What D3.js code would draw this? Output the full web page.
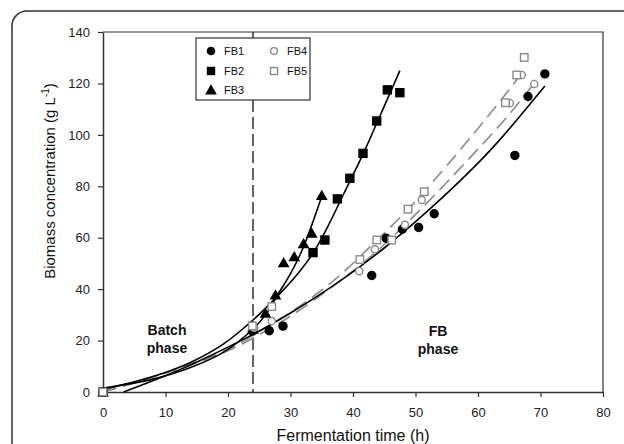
<!DOCTYPE html>
<html><head><meta charset="utf-8">
<script src="https://cdn.jsdelivr.net/npm/d3@7"></script>
<style>body{margin:0;background:#fff;} svg{display:block;font-family:"Liberation Sans",Arial,sans-serif;}</style>
</head><body>
<svg id="c" width="624" height="444"></svg>
<script>
// ---- data ----
const seriesNames = ["FB1","FB2","FB3","FB4","FB5"];
const fb1Points = [[0,0],[23.9,23.7],[26.6,23.8],[28.8,25.6],[43,45.3],[45.3,59.8],[47.9,63.3],[50.5,64.0],[53.0,69.3],[65.9,92.0],[68.0,114.9],[70.7,123.7]];
const fb2Points = [[0,0],[24,24.5],[33.6,54.2],[35.5,59.1],[37.5,75.1],[39.5,83.1],[41.6,92.8],[43.8,105.4],[45.5,117.5],[47.5,116.4]];
const fb3Points = [[0,0],[24,24.5],[26.0,30.6],[27.6,37.7],[28.9,50.2],[30.6,52.6],[32.1,57.6],[33.4,61.7],[35.0,76.4]];
const fb4Points = [[0,0],[24.2,25],[27.0,27.6],[41.0,47.0],[43.5,55.5],[48.3,65.0],[51.0,74.7],[65.1,112.3],[67.0,123.3],[69.0,119.8]];
const fb5Points = [[0,0],[23.9,25.7],[27.0,33.2],[41.1,51.5],[43.8,59.1],[46.2,59.1],[48.8,71.1],[51.4,77.9],[64.4,112.5],[66.2,123.3],[67.4,130.1]];
// fitted curves as drawn in the picture
const fb1Curve = [[3.3,0],[10,6.3],[13.9,10.4],[17,13.9],[24,22.4],[30,30.7],[38,43.3],[45,56],[52,70.5],[60,89],[64,99.5],[70.7,119]];
const fb2Curve = [[0,1],[8,6],[14,11.5],[19.3,18.7],[24,28],[28,37.5],[31,45.5],[33.6,54],[36,64.5],[38.5,77],[41.6,92.5],[43.8,104.5],[47.5,125]];
const fb3Curve = [[0,1.5],[8,5],[14,9.5],[19.3,15.5],[24,24.5],[26,30],[28,38],[30,46],[32,56],[35.2,77.5]];
const fb4Curve = [[0,0],[10,7.3],[20,16],[24,21],[30,29.5],[37,41.5],[43,53],[48.3,65],[51,71.5],[55,81.5],[60,94.5],[65,108],[69.4,121.4]];
const fb5Curve = [[0,0],[10,7.6],[20,16.5],[24,22],[30,31],[37,43.5],[43.8,59],[48.8,71],[51.4,78],[55,88],[60,102.5],[64,114.5],[67.3,125]];
const xTicks = [0,10,20,30,40,50,60,70,80];
const yTicks = [0,20,40,60,80,100,120,140];
const phaseBoundary = 24;

// ---- layout ----
const svg = d3.select("#c");
const L = 103, R = 603, T = 32, B = 392;
const x = d3.scaleLinear().domain([0,80]).range([L,R]);
const y = d3.scaleLinear().domain([0,140]).range([B,T]);
const axisCol = "#333", gray = "#8a8a8a";

// outer rounded frame
svg.append("rect").attr("x",12).attr("y",11).attr("width",640).attr("height",470)
  .attr("rx",15).attr("fill","none").attr("stroke","#333").attr("stroke-width",1.5);

// plot frame (top/right)
svg.append("path").attr("d",`M${L},${T}H${R}V${B}`).attr("fill","none").attr("stroke",axisCol).attr("stroke-width",1.2);

const xa = svg.append("g").attr("transform",`translate(0,${B})`)
  .call(d3.axisBottom(x).tickValues(xTicks).tickSize(5).tickPadding(11).tickSizeOuter(0));
const ya = svg.append("g").attr("transform",`translate(${L},0)`)
  .call(d3.axisLeft(y).tickValues(yTicks).tickSize(5).tickPadding(8).tickSizeOuter(0));
[xa,ya].forEach(g=>{
  g.select(".domain").attr("stroke",axisCol).attr("stroke-width",1.5);
  g.selectAll(".tick line").attr("stroke",axisCol).attr("stroke-width",1.2);
  g.selectAll(".tick text").attr("fill","#222").style("font-size","13px").style("font-family","'Liberation Sans',Arial,sans-serif");
});

// phase boundary
svg.append("line").attr("x1",x(phaseBoundary)).attr("x2",x(phaseBoundary)).attr("y1",T).attr("y2",B)
  .attr("stroke","#111").attr("stroke-width",1.3).attr("stroke-dasharray","12,5");

// curves
const line = d3.line().x(d=>x(d[0])).y(d=>y(d[1])).curve(d3.curveCatmullRom.alpha(0.5));
[[fb4Curve,gray,"14,7"],[fb5Curve,gray,"14,7"],[fb1Curve,"#000",null],[fb2Curve,"#000",null],[fb3Curve,"#000",null]]
.forEach(([c,col,dash])=>{
  const p = svg.append("path").attr("d",line(c)).attr("fill","none").attr("stroke",col).attr("stroke-width",1.6);
  if(dash) p.attr("stroke-dasharray",dash);
});

// markers
const tri = d3.symbol().type(d3.symbolTriangle).size(60);
function drawCircle(g,cx,cy,r,fill,stroke){g.append("circle").attr("cx",cx).attr("cy",cy).attr("r",r).attr("fill",fill).attr("stroke",stroke).attr("stroke-width",1.4);}
function drawSquare(g,cx,cy,s,fill,stroke){g.append("rect").attr("x",cx-s/2).attr("y",cy-s/2).attr("width",s).attr("height",s).attr("fill",fill).attr("stroke",stroke).attr("stroke-width",1.4);}
function drawTri(g,cx,cy){g.append("path").attr("d",tri()).attr("transform",`translate(${cx},${cy+1})`).attr("fill","#000");}
const mg = svg.append("g");
fb1Points.forEach(d=>drawCircle(mg,x(d[0]),y(d[1]),4,"#000","#000"));
fb2Points.forEach(d=>drawSquare(mg,x(d[0]),y(d[1]),8,"#000","#000"));
fb3Points.forEach(d=>drawTri(mg,x(d[0]),y(d[1])));
fb4Points.forEach(d=>drawCircle(mg,x(d[0]),y(d[1]),3.6,"#fff",gray));
fb5Points.forEach(d=>drawSquare(mg,x(d[0]),y(d[1]),7.5,"#fff",gray));

// phase labels
function label2(cx,y1,a,b){
  const t = svg.append("text").attr("text-anchor","middle").attr("font-weight","bold").style("font-size","14px").attr("fill","#111");
  t.append("tspan").attr("x",cx).attr("y",y1).text(a);
  t.append("tspan").attr("x",cx).attr("y",y1+18).text(b);
}
label2(167,335,"Batch","phase");
label2(438,336,"FB","phase");

// legend
svg.append("rect").attr("x",196).attr("y",38).attr("width",114).attr("height",62).attr("fill","#fff").attr("stroke","#333").attr("stroke-width",1.2);
const lg = svg.append("g");
const legRows = [[211,51],[211,71],[211,90],[274,51],[274,71]];
legRows.forEach(([lx,ly],i)=>{
  if(i===0) drawCircle(lg,lx,ly,3.6,"#000","#000");
  if(i===1) drawSquare(lg,lx,ly,7,"#000","#000");
  if(i===2) drawTri(lg,lx,ly);
  if(i===3) drawCircle(lg,lx,ly,3.4,"#fff",gray);
  if(i===4) drawSquare(lg,lx,ly,7,"#fff",gray);
  lg.append("text").attr("x",lx+13).attr("y",ly+4).style("font-size","11px").attr("fill","#111").text(seriesNames[i]);
});

// axis titles
svg.append("text").attr("x",353).attr("y",441).attr("text-anchor","middle").style("font-size","16px").attr("fill","#111").text("Fermentation time (h)");
const yt = svg.append("text").attr("transform","translate(55,181) rotate(-90)").attr("text-anchor","middle").style("font-size","15px").attr("fill","#111");
yt.append("tspan").text("Biomass concentration (g L");
yt.append("tspan").attr("dy",-6).style("font-size","10px").text("-1");
yt.append("tspan").attr("dy",6).text(")");
</script>
</body></html>
